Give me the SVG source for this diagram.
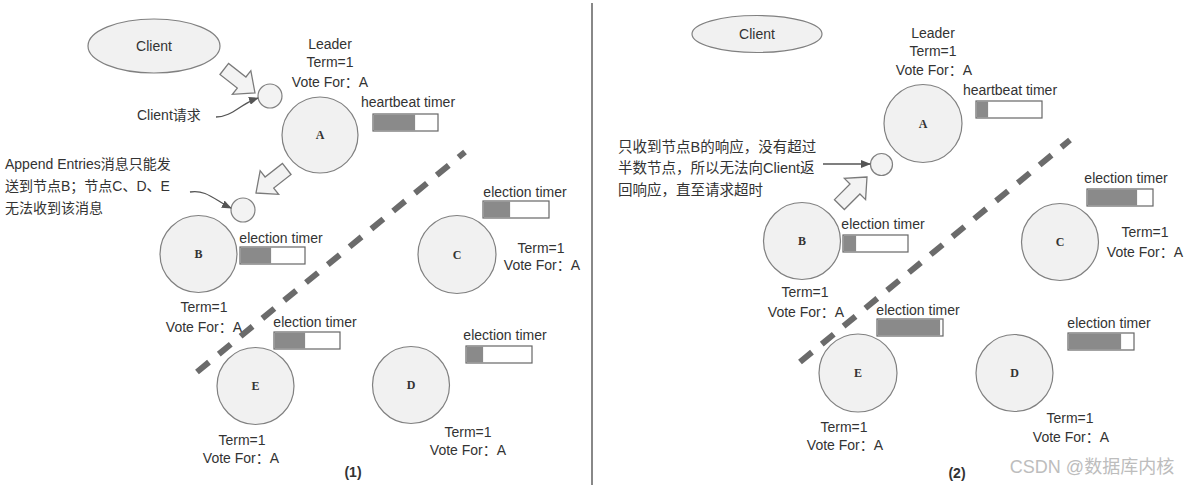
<svg xmlns="http://www.w3.org/2000/svg" width="1193" height="487" viewBox="0 0 1193 487">
<style>
.t{font-family:"Liberation Sans","Noto Sans CJK SC",sans-serif;font-size:14px;fill:#333}
.c{text-anchor:middle}
.cjk{font-family:"Liberation Sans","Noto Sans CJK SC",sans-serif;font-size:14.5px;fill:#333}
.node{fill:#f1f1f1;stroke:#808080;stroke-width:1.2}
.lbl{font-family:"Liberation Serif",serif;font-weight:bold;font-size:12px;fill:#333;text-anchor:middle;dominant-baseline:central}
.bar{fill:#fff;stroke:#666;stroke-width:1.2}
.fill{fill:#8a8a8a}
.small{fill:#f3f3f3;stroke:#808080;stroke-width:1.2}
.blk{fill:#f3f3f3;stroke:#7a7a7a;stroke-width:1.3;stroke-linejoin:miter}
.dash{stroke:#6b6b6b;stroke-width:6;stroke-dasharray:15.5 12.7;fill:none}
.thin{stroke:#555;stroke-width:1.3;fill:none}
</style>
<defs>
<marker id="ah" markerWidth="10" markerHeight="8" refX="9" refY="4" orient="auto" markerUnits="userSpaceOnUse">
<path d="M0,0 L10,4 L0,8 z" fill="#555"/>
</marker>
<polygon id="barrow" points="0,0 -17,-15 -17,-7 -39,-7 -39,7 -17,7 -17,15"/>
</defs>
<rect width="1193" height="487" fill="#fff"/>
<line x1="592" y1="3" x2="592" y2="485" stroke="#888" stroke-width="2"/>

<!-- LEFT PANEL -->
<g id="client1">
<ellipse cx="154" cy="46" rx="66" ry="27" class="node"/>
<text x="154" y="51" class="t c">Client</text>
</g>
<g id="req1">
<circle cx="270" cy="96" r="12" class="small"/>
<text x="137" y="120" class="t">Client请求</text>
</g>
<g id="msg1">
<circle cx="243" cy="210" r="12" class="small"/>
<text x="5" y="169" class="t">Append Entries消息只能发</text>
<text x="5" y="191" class="t">送到节点B；节点C、D、E</text>
<text x="5" y="213" class="t">无法收到该消息</text>
</g>
<g id="nodeA1">
<circle cx="320" cy="135" r="38" class="node"/>
<text x="320" y="135" class="lbl">A</text>
<text x="330" y="49" class="t c">Leader</text>
<text x="330" y="67" class="t c">Term=1</text>
<text x="330" y="87" class="t c">Vote For：A</text>
<text x="408" y="107" class="t c">heartbeat timer</text>
<rect x="373" y="114" width="65" height="17" class="bar"/>
<rect x="373.6" y="114.6" width="41.5" height="15.8" class="fill"/>
</g>
<g id="nodeB1">
<circle cx="198.5" cy="254" r="38.5" class="node"/>
<text x="198.5" y="254" class="lbl">B</text>
<text x="281" y="243" class="t c">election timer</text>
<rect x="240" y="247" width="65" height="17" class="bar"/>
<rect x="240.6" y="247.6" width="30.5" height="15.8" class="fill"/>
<text x="204" y="312" class="t c">Term=1</text>
<text x="204" y="332" class="t c">Vote For：A</text>
</g>
<g id="nodeC1">
<circle cx="457" cy="254.5" r="39" class="node"/>
<text x="457" y="254.5" class="lbl">C</text>
<text x="525" y="197" class="t c">election timer</text>
<rect x="483" y="201" width="66" height="17" class="bar"/>
<rect x="483.6" y="201.6" width="26.5" height="15.8" class="fill"/>
<text x="541" y="253" class="t c">Term=1</text>
<text x="542" y="270" class="t c">Vote For：A</text>
</g>
<g id="nodeE1">
<circle cx="255.5" cy="386" r="38.5" class="node"/>
<text x="255.5" y="386" class="lbl">E</text>
<text x="315" y="327" class="t c">election timer</text>
<rect x="274" y="332" width="66" height="17" class="bar"/>
<rect x="274.6" y="332.6" width="30.5" height="15.8" class="fill"/>
<text x="242" y="445" class="t c">Term=1</text>
<text x="241" y="463" class="t c">Vote For：A</text>
</g>
<g id="nodeD1">
<circle cx="411" cy="385" r="38.5" class="node"/>
<text x="411" y="385" class="lbl">D</text>
<text x="505" y="340" class="t c">election timer</text>
<rect x="466" y="346" width="66" height="17" class="bar"/>
<rect x="466.6" y="346.6" width="16.5" height="15.8" class="fill"/>
<text x="468" y="437" class="t c">Term=1</text>
<text x="468" y="455" class="t c">Vote For：A</text>
</g>
<text x="353" y="477" class="t c" font-weight="bold">(1)</text>

<!-- RIGHT PANEL -->
<g id="client2">
<ellipse cx="757" cy="34" rx="65" ry="18.5" class="node"/>
<text x="757" y="39" class="t c">Client</text>
</g>
<g id="resp2">
<circle cx="881.5" cy="164.5" r="11" class="small"/>
<text x="618" y="152" class="cjk">只收到节点B的响应，没有超过</text>
<text x="618" y="173" class="cjk">半数节点，所以无法向Client返</text>
<text x="618" y="195" class="cjk">回响应，直至请求超时</text>
</g>
<g id="nodeA2">
<circle cx="923" cy="123.5" r="39" class="node"/>
<text x="923" y="123.5" class="lbl">A</text>
<text x="933" y="38" class="t c">Leader</text>
<text x="933" y="56" class="t c">Term=1</text>
<text x="934" y="75" class="t c">Vote For：A</text>
<text x="1010" y="95" class="t c">heartbeat timer</text>
<rect x="976" y="101" width="66" height="17" class="bar"/>
<rect x="976.6" y="101.6" width="11.5" height="15.8" class="fill"/>
</g>
<g id="nodeB2">
<circle cx="802" cy="241" r="38.5" class="node"/>
<text x="802" y="241" class="lbl">B</text>
<text x="883" y="229" class="t c">election timer</text>
<rect x="843" y="235" width="65" height="17" class="bar"/>
<rect x="843.6" y="235.6" width="12.5" height="15.8" class="fill"/>
<text x="805" y="297" class="t c">Term=1</text>
<text x="806" y="317" class="t c">Vote For：A</text>
</g>
<g id="nodeC2">
<circle cx="1060" cy="242" r="38.5" class="node"/>
<text x="1060" y="242" class="lbl">C</text>
<text x="1126" y="183" class="t c">election timer</text>
<rect x="1087" y="189" width="66" height="17" class="bar"/>
<rect x="1087.6" y="189.6" width="49.5" height="15.8" class="fill"/>
<text x="1145" y="237" class="t c">Term=1</text>
<text x="1145" y="257" class="t c">Vote For：A</text>
</g>
<g id="nodeE2">
<circle cx="858" cy="373" r="39" class="node"/>
<text x="858" y="373" class="lbl">E</text>
<text x="918" y="315" class="t c">election timer</text>
<rect x="877" y="319" width="66" height="17" class="bar"/>
<rect x="877.6" y="319.6" width="62.5" height="15.8" class="fill"/>
<text x="844" y="432" class="t c">Term=1</text>
<text x="845" y="450" class="t c">Vote For：A</text>
</g>
<g id="nodeD2">
<circle cx="1014.5" cy="373" r="38.5" class="node"/>
<text x="1014.5" y="373" class="lbl">D</text>
<text x="1109" y="328" class="t c">election timer</text>
<rect x="1068" y="333" width="66" height="17" class="bar"/>
<rect x="1068.6" y="333.6" width="52.5" height="15.8" class="fill"/>
<text x="1070" y="423" class="t c">Term=1</text>
<text x="1071" y="442" class="t c">Vote For：A</text>
</g>
<text x="957" y="478" class="t c" font-weight="bold">(2)</text>
<text x="1092" y="473" text-anchor="middle" font-family="Liberation Sans,Noto Sans CJK SC,sans-serif" font-size="18" fill="#bdbdbd">CSDN @数据库内核</text>

<!-- CONNECTORS -->
<g id="connectors">
<line x1="197" y1="372" x2="465" y2="152" class="dash"/>
<line x1="800" y1="362" x2="1070" y2="140" class="dash"/>
<use href="#barrow" class="blk" transform="translate(255,93) rotate(38)"/>
<use href="#barrow" class="blk" transform="translate(256,193) rotate(142)"/>
<use href="#barrow" class="blk" transform="translate(867,177) rotate(-45)"/>
<path d="M216,117 C232,117 240,104 258,98" class="thin" marker-end="url(#ah)"/>
<path d="M190,192 C206,189 216,201 231,208" class="thin" marker-end="url(#ah)"/>
<line x1="823" y1="164" x2="870" y2="164" class="thin" marker-end="url(#ah)"/>
</g>
</svg>
